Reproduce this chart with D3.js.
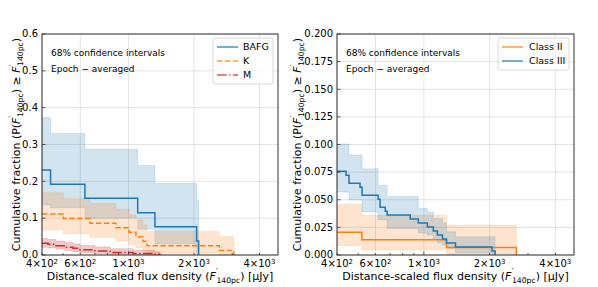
<!DOCTYPE html>
<html>
<head>
<meta charset="utf-8">
<script src="https://d3js.org/d3.v7.min.js"></script>
<style>
  body { margin: 0; background: #fff; }
  text { font-family: "DejaVu Sans", sans-serif; fill: #000; }
</style>
</head>
<body>
<script>
// ---- data ----
// left panel: spectral types
const bafgFlux  = [400, 438, 630, 1102, 1323, 2057, 2101];
const bafgFrac  = [0.231, 0.192, 0.154, 0.115, 0.077, 0.038, 0];
const bafgUpper = [0.373, 0.330, 0.287, 0.243, 0.195, 0.148];
const bafgLower = [0.136, 0.128, 0.100, 0.070, 0.030, 0.003];

const kFlux  = [400, 501, 665, 876, 1005, 1082, 1165, 1216, 2614, 3054];
const kFrac  = [0.111, 0.099, 0.086, 0.074, 0.062, 0.049, 0.037, 0.025, 0.012, 0];
const kUpper = [0.169, 0.153, 0.140, 0.125, 0.109, 0.095, 0.082, 0.064, 0.050];
const kLower = [0.068, 0.058, 0.048, 0.038, 0.028, 0.020, 0.012, 0.005, 0.001];

const mFlux  = [400, 426, 464, 510, 555, 598, 701, 822, 1048, 1323, 1395];
const mFrac  = [0.032, 0.029, 0.025, 0.021, 0.018, 0.014, 0.011, 0.007, 0.004, 0.002, 0];
const mUpper = [0.045, 0.042, 0.038, 0.034, 0.030, 0.026, 0.022, 0.017, 0.013, 0.009];
const mLower = [0.021, 0.019, 0.016, 0.012, 0.009, 0.006, 0.004, 0.002, 0.001, 0];

// right panel: YSO classes
const c2Flux  = [400, 520, 1269, 2652];
const c2Frac  = [0.0205, 0.0137, 0.0068, 0];
const c2Upper = [0.046, 0.036, 0.027];
const c2Lower = [0.0084, 0.0045, 0.001];

const c3Flux  = [400, 440, 454, 510, 521, 617, 630, 665, 679, 866, 943, 1037, 1105, 1153, 1216, 1269, 1395, 2052, 2119];
const c3Frac  = [0.0758, 0.0722, 0.065, 0.0614, 0.0541, 0.0505, 0.0433, 0.0397, 0.0361, 0.0325, 0.0289, 0.0253, 0.0217, 0.018, 0.0144, 0.0108, 0.0072, 0.0036, 0];
const c3Upper = [0.1005, 0.1005, 0.0905, 0.0905, 0.078, 0.063, 0.063, 0.063, 0.053, 0.053, 0.042, 0.039, 0.033, 0.033, 0.029, 0.021, 0.0166, 0.0166];
const c3Lower = [0.057, 0.057, 0.05, 0.05, 0.039, 0.032, 0.032, 0.032, 0.024, 0.024, 0.02, 0.018, 0.0136, 0.011, 0.009, 0.006, 0.002, 0.001];

const xDomain = [400, 4870];
const xLabelTicks = [400, 600, 1000, 2000, 4000];
const xMinorTicks = [500, 700, 800, 900, 3000];
const leftYTicks  = [0, 0.1, 0.2, 0.3, 0.4, 0.5, 0.6];
const rightYTicks = [0, 0.025, 0.05, 0.075, 0.1, 0.125, 0.15, 0.175, 0.2];
const noteLines = ["68% confidence intervals", "Epoch \u2212 averaged"];

const BLUE = "#1f77b4", ORANGE = "#ff7f0e", RED = "#d62728";

const svg = d3.select("body").append("svg")
  .attr("width", 598).attr("height", 287);

// parts: [text, kind]; kinds: n normal, i italic, p prime (raised), s subscript
function mathLabel(sel, parts, fs) {
  let cur = 0;
  parts.forEach(([t, k]) => {
    let off = 0, size = fs, dx = 0;
    if (k === "p") { off = -0.38 * fs; size = 0.8 * fs; }
    if (k === "s") { off = 0.28 * fs; size = 0.7 * fs; dx = -1.5; }
    const ts = sel.append("tspan").text(t).attr("font-size", size)
      .attr("dy", off - cur);
    if (dx) ts.attr("dx", dx);
    if (k === "i") ts.attr("font-style", "italic");
    cur = off;
  });
}

const fluxSym = [["F", "i"], ["\u2032", "p"], ["140pc", "s"]];

function drawPanel(cfg) {
  const x = d3.scaleLog().domain(xDomain).range([cfg.x0, cfg.x1]);
  const y = d3.scaleLinear().domain([0, cfg.yMax]).range([cfg.y1, cfg.y0]);
  const g = svg.append("g");
  const clipId = "clip" + cfg.id;
  svg.append("clipPath").attr("id", clipId).append("rect")
    .attr("x", cfg.x0).attr("y", cfg.y0)
    .attr("width", cfg.x1 - cfg.x0).attr("height", cfg.y1 - cfg.y0);

  // grid
  g.selectAll(".gx").data(xLabelTicks).enter().append("line")
    .attr("x1", d => x(d)).attr("x2", d => x(d))
    .attr("y1", cfg.y0).attr("y2", cfg.y1)
    .attr("stroke", "#dcdcdc").attr("stroke-width", 0.8);
  g.selectAll(".gy").data(cfg.yTicks).enter().append("line")
    .attr("x1", cfg.x0).attr("x2", cfg.x1)
    .attr("y1", d => y(d)).attr("y2", d => y(d))
    .attr("stroke", "#dcdcdc").attr("stroke-width", 0.8);

  const plot = g.append("g").attr("clip-path", `url(#${clipId})`);

  const area = d3.area().curve(d3.curveStepAfter)
    .x(d => x(d[0])).y0(d => y(d[1])).y1(d => y(d[2]));
  const line = d3.line().curve(d3.curveStepAfter)
    .x(d => x(d[0])).y(d => y(d[1]));

  cfg.series.forEach(s => {
    const n = s.flux.length;
    const pts = s.upper.map((u, i) => [s.flux[i], s.lower[i], u]);
    pts.push([s.flux[n - 1], s.lower[n - 2], s.upper[n - 2]]);
    plot.append("path").attr("d", area(pts))
      .attr("fill", s.color).attr("fill-opacity", s.alpha)
      .attr("stroke", s.color).attr("stroke-opacity", s.alpha * 0.9)
      .attr("stroke-width", 0.8);
  });
  cfg.series.forEach(s => {
    const pts = s.flux.map((f, i) => [f, s.frac[i]]);
    plot.append("path").attr("d", line(pts))
      .attr("fill", "none").attr("stroke", s.color)
      .attr("stroke-width", 1.5)
      .attr("stroke-dasharray", s.dash || null);
  });

  // spines
  g.append("rect").attr("x", cfg.x0).attr("y", cfg.y0)
    .attr("width", cfg.x1 - cfg.x0).attr("height", cfg.y1 - cfg.y0)
    .attr("fill", "none").attr("stroke", "#333").attr("stroke-width", 1);

  // x ticks (inward)
  g.selectAll(".tx").data(xLabelTicks.concat(xMinorTicks)).enter().append("line")
    .attr("x1", d => x(d)).attr("x2", d => x(d))
    .attr("y1", cfg.y1).attr("y2", d => cfg.y1 - (d === 1000 ? 3.5 : 2))
    .attr("stroke", "#333").attr("stroke-width", 0.8);
  xLabelTicks.forEach(v => {
    const e = Math.floor(Math.log10(v) + 1e-9);
    const m = Math.round(v / Math.pow(10, e));
    const t = g.append("text").attr("x", x(v)).attr("y", cfg.y1 + 12)
      .attr("text-anchor", "middle").attr("font-size", 10);
    t.append("tspan").text(m + "\u00d710");
    t.append("tspan").text(e).attr("font-size", 7).attr("dy", -3.5);
  });

  // y ticks
  g.selectAll(".ty").data(cfg.yTicks).enter().append("line")
    .attr("x1", cfg.x0).attr("x2", cfg.x0 + 3.5)
    .attr("y1", d => y(d)).attr("y2", d => y(d))
    .attr("stroke", "#333").attr("stroke-width", 0.8);
  g.selectAll(".ly").data(cfg.yTicks).enter().append("text")
    .attr("x", cfg.x0 - 4).attr("y", d => y(d) + 3.3)
    .attr("text-anchor", "end").attr("font-size", 10)
    .text(d => d3.format(cfg.fmt)(d));

  // axis labels
  const xl = g.append("text").attr("x", (cfg.x0 + cfg.x1) / 2).attr("y", 279.5)
    .attr("text-anchor", "middle");
  mathLabel(xl, [["Distance-scaled flux density (", "n"]].concat(fluxSym)
    .concat([[") [\u03bcJy]", "n"]]), 11);

  const yl = g.append("text")
    .attr("transform", `translate(${cfg.ylx},${(cfg.y0 + cfg.y1) / 2}) rotate(-90)`)
    .attr("text-anchor", "middle");
  mathLabel(yl, [["Cumulative fraction (P(", "n"]].concat(fluxSym)
    .concat([[") \u2265 ", "n"]]).concat(fluxSym).concat([[")", "n"]]), 11);

  // notes
  noteLines.forEach((t, i) => {
    g.append("text").attr("x", cfg.x0 + 9).attr("y", 56 + i * 15.5)
      .attr("font-size", 9).text(t);
  });

  // legend
  const L = cfg.legend;
  g.append("rect").attr("x", L.x).attr("y", L.y).attr("width", L.w)
    .attr("height", cfg.legendOrder.length * 14 + 4)
    .attr("rx", 2).attr("fill", "#fff").attr("fill-opacity", 0.8)
    .attr("stroke", "#d0d0d0").attr("stroke-width", 0.8);
  cfg.legendOrder.forEach((s, i) => {
    const ly = L.y + 9 + i * 14;
    g.append("line").attr("x1", L.x + 4).attr("x2", L.x + 25)
      .attr("y1", ly).attr("y2", ly)
      .attr("stroke", s.color).attr("stroke-width", 1.5).attr("stroke-opacity", 0.8)
      .attr("stroke-dasharray", s.dash || null);
    g.append("text").attr("x", L.x + L.tx).attr("y", ly + 3.4)
      .attr("font-size", 9.5).text(s.name);
  });
}

const bafg = {name: "BAFG", flux: bafgFlux, frac: bafgFrac, upper: bafgUpper, lower: bafgLower, color: BLUE, alpha: 0.2};
const kSer = {name: "K", flux: kFlux, frac: kFrac, upper: kUpper, lower: kLower, color: ORANGE, alpha: 0.2, dash: "5.5,2.4"};
const mSer = {name: "M", flux: mFlux, frac: mFrac, upper: mUpper, lower: mLower, color: RED, alpha: 0.25, dash: "9.6,2.4,1.5,2.4"};
const c2 = {name: "Class II", flux: c2Flux, frac: c2Frac, upper: c2Upper, lower: c2Lower, color: ORANGE, alpha: 0.2};
const c3 = {name: "Class III", flux: c3Flux, frac: c3Frac, upper: c3Upper, lower: c3Lower, color: BLUE, alpha: 0.2};

drawPanel({id: "L", x0: 42, x1: 278, y0: 34, y1: 255, yMax: 0.6, yTicks: leftYTicks, fmt: ".1f",
  ylx: 20, series: [bafg, kSer, mSer], legendOrder: [bafg, kSer, mSer],
  legend: {x: 213, y: 38, w: 60, tx: 30}});
drawPanel({id: "R", x0: 337, x1: 574, y0: 34, y1: 255, yMax: 0.2, yTicks: rightYTicks, fmt: ".3f",
  ylx: 301, series: [c2, c3], legendOrder: [c2, c3],
  legend: {x: 498, y: 38, w: 71, tx: 31}});
</script>
</body>
</html>
